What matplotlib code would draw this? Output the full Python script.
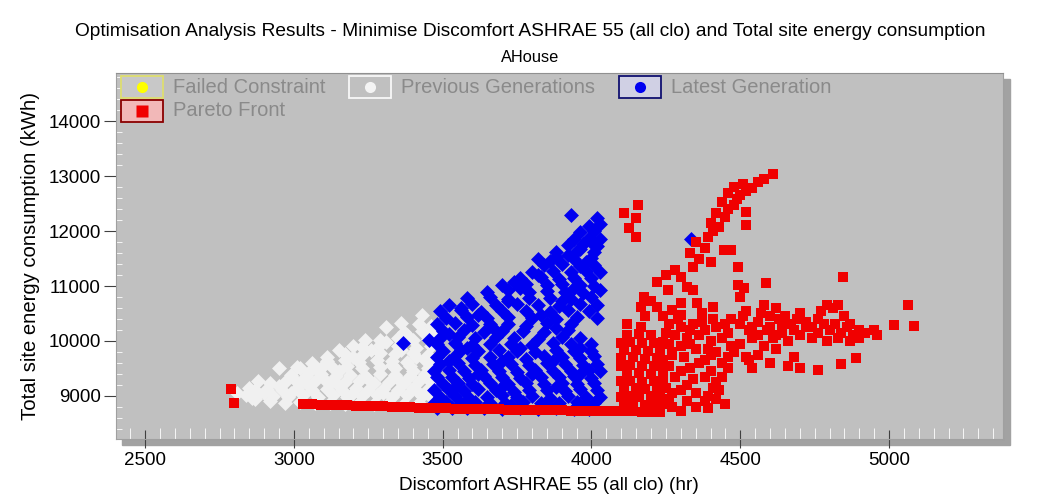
import matplotlib
matplotlib.use("Agg")
import matplotlib.pyplot as plt
from matplotlib.patches import Rectangle
from matplotlib.lines import Line2D
from matplotlib.ticker import MultipleLocator

plt.rcParams['font.family'] = ['Liberation Sans', 'DejaVu Sans']

# ---- data: (discomfort hr, energy kWh) ----
previous_pts = [
    (2810, 9050), (2850, 9150), (2880, 9280), (2950, 9500), (3010, 9520),
    (3060, 9600), (3110, 9700), (3150, 9830), (3200, 9900), (3240, 10010),
    (3310, 10250), (3360, 10320), (3430, 10470),
    (2870, 8950), (2920, 8900), (2970, 8880), (3020, 8890), (3070, 8870),
    (3120, 8880), (3170, 8860), (3220, 8870), (3270, 8860), (3320, 8870),
    (3370, 8860), (3420, 8870),
    (2840, 9010), (2880, 9040), (2930, 9000), (2980, 8990), (3030, 9010),
    (3080, 8990), (3130, 9020), (3180, 8990), (3230, 9000), (3280, 9020),
    (3330, 8990), (3380, 9010), (3430, 9000), (3460, 8980),
    (2870, 9100), (2910, 9130), (2960, 9110), (3010, 9140), (3060, 9100),
    (3110, 9120), (3160, 9110), (3210, 9140), (3250, 9100), (3300, 9130),
    (3350, 9110), (3400, 9140), (3450, 9120),
    (2920, 9230), (2970, 9260), (3020, 9240), (3070, 9270), (3120, 9230),
    (3170, 9250), (3220, 9280), (3270, 9240), (3320, 9260), (3370, 9230),
    (3420, 9270), (3460, 9250),
    (2990, 9380), (3040, 9360), (3090, 9400), (3140, 9370), (3190, 9390),
    (3240, 9360), (3290, 9400), (3340, 9380), (3390, 9360), (3440, 9400),
    (3020, 9500), (3070, 9520), (3130, 9500), (3180, 9540), (3230, 9510),
    (3290, 9530), (3340, 9500), (3390, 9540), (3450, 9510),
    (3110, 9630), (3170, 9650), (3220, 9620), (3280, 9660), (3330, 9640),
    (3380, 9620), (3440, 9660),
    (3170, 9770), (3230, 9750), (3290, 9790), (3340, 9760), (3400, 9780),
    (3450, 9750),
    (3230, 9890), (3290, 9920), (3350, 9900), (3410, 9880), (3460, 9910),
    (3290, 10020), (3350, 10050), (3400, 10010), (3450, 10040),
    (3370, 10160), (3430, 10190), (3420, 10310), (3460, 10280),
    (2900, 9060), (2950, 9180), (3000, 9300), (3050, 9440), (3100, 9570),
    (3150, 9450), (3200, 9700), (3260, 9840), (3310, 9980), (3380, 10100),
    (3330, 9560), (3410, 9700), (3250, 9300), (3150, 9180), (3050, 9180),
    (2990, 9060), (3100, 9300), (3350, 9300), (3400, 9450), (3200, 9050),
    (3300, 9060), (3420, 9060), (3460, 9380), (3460, 9600), (3360, 9840),
    (3460, 10150), (2860, 8960),
]

latest_pts = [
    (3365, 9960), (3455, 10020), (4333, 11854),
    (3480, 8780), (3530, 8780), (3580, 8790), (3640, 8780), (3700, 8770),
    (3760, 8780), (3820, 8770), (3880, 8780), (3940, 8770), (3990, 8770),
    (3470, 8880), (3510, 8890), (3560, 8870), (3610, 8890), (3660, 8880),
    (3710, 8870), (3770, 8890), (3830, 8880), (3890, 8870), (3950, 8890),
    (4010, 8880),
    (3490, 8980), (3540, 9000), (3590, 8970), (3650, 8990), (3700, 9010),
    (3750, 8980), (3800, 9000), (3860, 8970), (3920, 9000), (3980, 8990),
    (4030, 8980),
    (3470, 9100), (3520, 9110), (3570, 9090), (3620, 9120), (3680, 9100),
    (3740, 9080), (3790, 9110), (3850, 9100), (3910, 9090), (3960, 9120),
    (4020, 9100),
    (3500, 9220), (3550, 9240), (3600, 9210), (3660, 9230), (3720, 9220),
    (3780, 9240), (3840, 9210), (3900, 9230), (3950, 9220), (4010, 9240),
    (3480, 9340), (3530, 9350), (3590, 9330), (3640, 9360), (3700, 9340),
    (3760, 9320), (3830, 9350), (3890, 9340), (3940, 9360), (4000, 9330),
    (3470, 9460), (3520, 9470), (3570, 9450), (3630, 9480), (3690, 9460),
    (3750, 9440), (3810, 9470), (3870, 9460), (3930, 9450), (3990, 9480),
    (4030, 9460),
    (3490, 9580), (3550, 9600), (3610, 9570), (3670, 9590), (3730, 9580),
    (3790, 9560), (3850, 9600), (3910, 9580), (3970, 9570), (4020, 9590),
    (3480, 9700), (3540, 9720), (3600, 9690), (3660, 9710), (3720, 9700),
    (3780, 9680), (3840, 9720), (3900, 9700), (3960, 9690), (4010, 9720),
    (3500, 9820), (3560, 9840), (3620, 9810), (3690, 9830), (3750, 9820),
    (3810, 9800), (3880, 9840), (3940, 9820), (4000, 9810),
    (3480, 9940), (3540, 9960), (3600, 9930), (3660, 9950), (3730, 9940),
    (3800, 9920), (3870, 9960), (3930, 9940), (4000, 9950),
    (3490, 10060), (3550, 10080), (3610, 10050), (3680, 10070), (3740, 10060),
    (3820, 10040), (3900, 10080), (3960, 10060),
    (3500, 10180), (3570, 10200), (3640, 10170), (3700, 10190), (3770, 10180),
    (3840, 10160), (3920, 10200),
    (3480, 10300), (3540, 10320), (3600, 10290), (3660, 10310), (3720, 10300),
    (3780, 10280), (3850, 10320), (3930, 10300),
    (3510, 10420), (3580, 10440), (3650, 10410), (3720, 10430), (3800, 10420),
    (3880, 10400), (3950, 10440), (4020, 10420),
    (3490, 10540), (3560, 10560), (3630, 10530), (3700, 10550), (3780, 10540),
    (3860, 10520), (3920, 10560), (3990, 10540),
    (3520, 10660), (3600, 10680), (3680, 10650), (3750, 10670), (3820, 10660),
    (3890, 10640), (3960, 10680), (4020, 10660),
    (3580, 10780), (3660, 10800), (3720, 10770), (3790, 10790), (3860, 10780),
    (3930, 10760), (4000, 10800),
    (3650, 10900), (3720, 10920), (3790, 10890), (3850, 10910), (3910, 10900),
    (3970, 10880), (4030, 10920),
    (3700, 11020), (3780, 11040), (3850, 11010), (3900, 11030), (3960, 11020),
    (4010, 11000),
    (3760, 11140), (3830, 11160), (3890, 11130), (3940, 11150), (4000, 11140),
    (3800, 11260), (3870, 11280), (3930, 11250), (3980, 11270), (4030, 11260),
    (3840, 11380), (3900, 11400), (3960, 11370), (4010, 11390),
    (3820, 11500), (3880, 11520), (3940, 11490), (4000, 11510),
    (3880, 11620), (3950, 11640), (4010, 11610),
    (3920, 11740), (3970, 11760), (4020, 11730),
    (3940, 11860), (3990, 11880), (4030, 11850),
    (3960, 11980), (4010, 12000), (3990, 12100), (4030, 12120),
    (4020, 12230), (3930, 12300),
    (3500, 8830), (3600, 8830), (3730, 8830), (3850, 8830), (3980, 8830),
    (3540, 9160), (3700, 9160), (3880, 9160), (3620, 9400), (3800, 9400),
    (3960, 9400), (3520, 9640), (3700, 9640), (3870, 9640), (3580, 9880),
    (3760, 9880), (3960, 9880), (3520, 10120), (3670, 10240), (3880, 10240),
    (3620, 10480), (3830, 10480), (3560, 10600), (3720, 10720), (3900, 10720),
    (3760, 10960), (3940, 10960), (3820, 11200), (3860, 11450), (3920, 11560),
    (3960, 11680), (4000, 11800), (3980, 11440), (3740, 11080),
]

pareto_pts = [
    (2790, 9120), (2800, 8870),
    # front along the bottom
    (3030, 8860), (3060, 8850), (3090, 8840), (3120, 8840), (3150, 8830),
    (3180, 8830), (3210, 8820), (3240, 8820), (3270, 8810), (3300, 8810),
    (3330, 8800), (3360, 8800), (3390, 8800), (3420, 8790), (3450, 8790),
    (3480, 8780), (3510, 8780), (3540, 8770), (3570, 8770), (3600, 8770),
    (3630, 8760), (3660, 8760), (3690, 8760), (3720, 8750), (3750, 8750),
    (3780, 8750), (3810, 8740), (3840, 8740), (3870, 8740), (3900, 8740),
    (3930, 8730), (3960, 8730), (3990, 8730), (4020, 8720), (4050, 8720),
    (4080, 8720),
    # dense block
    (4110, 8720), (4140, 8720), (4170, 8710), (4200, 8710), (4230, 8710),
    (4110, 8850), (4140, 8860), (4180, 8840), (4210, 8850), (4240, 8860),
    (4100, 8990), (4130, 9000), (4160, 8980), (4200, 9000), (4230, 8990),
    (4110, 9130), (4150, 9140), (4180, 9120), (4220, 9130),
    (4100, 9270), (4130, 9280), (4170, 9260), (4210, 9270), (4240, 9280),
    (4120, 9410), (4160, 9420), (4200, 9400),
    (4100, 9550), (4130, 9560), (4170, 9540), (4210, 9550), (4240, 9560),
    (4100, 9690), (4140, 9700), (4180, 9680), (4220, 9690),
    (4110, 9830), (4150, 9840), (4190, 9820), (4230, 9830),
    (4100, 9970), (4130, 9980), (4170, 9960), (4210, 9970), (4240, 9980),
    (4120, 10110), (4160, 10120), (4200, 10100),
    (4121, 10300), (4168, 10254),
    # middle
    (4260, 10300), (4300, 10250), (4340, 10300), (4380, 10200), (4420, 10250),
    (4460, 10150), (4280, 10100), (4320, 10050), (4360, 10100), (4400, 10000),
    (4440, 10050), (4260, 9950), (4300, 9900), (4350, 9850), (4420, 9800),
    (4470, 9900), (4270, 9750), (4310, 9700), (4380, 9650), (4440, 9600),
    (4260, 9550), (4330, 9500), (4400, 9450), (4460, 9500), (4280, 9350),
    (4340, 9300), (4420, 9250), (4250, 9150), (4300, 9100), (4350, 9050),
    (4390, 9000), (4430, 9100), (4260, 8950), (4320, 8900), (4380, 8900),
    (4420, 8950), (4270, 8800), (4300, 8720),
    (4250, 10150), (4290, 10400), (4330, 10200), (4370, 10350), (4410, 10400),
    (4450, 10300), (4270, 9800), (4330, 9950), (4390, 9850), (4360, 9600),
    (4300, 9450), (4380, 9350), (4440, 9350), (4320, 9200), (4270, 9050),
    (4410, 9150), (4350, 8800), (4390, 8780), (4450, 8850), (4240, 9650),
    (4240, 9400), (4460, 9700), (4400, 9750),
    (4220, 11070), (4175, 10800), (4200, 10720), (4256, 10930), (4320, 10980),
    (4340, 10930), (4300, 10690), (4355, 10690), (4165, 10620), (4220, 10620),
    (4410, 10620), (4270, 10560), (4180, 10450), (4240, 10450), (4300, 10480),
    (4370, 10500),
    # horizontal band
    (4470, 10400), (4500, 10300), (4530, 10200), (4560, 10350), (4600, 10250),
    (4640, 10300), (4680, 10200), (4720, 10250), (4760, 10150), (4800, 10200),
    (4840, 10150), (4880, 10100), (4920, 10150), (4950, 10200), (4520, 10550),
    (4570, 10500), (4620, 10600), (4650, 10450), (4700, 10500), (4720, 10350),
    (4760, 10400), (4790, 10650), (4810, 10600), (4830, 10650), (4850, 10450),
    (4560, 10100), (4610, 10050), (4660, 10000), (4700, 10100), (4740, 10050),
    (4790, 10000), (4830, 10050), (4870, 10000), (4640, 10150), (4690, 10400),
    (4580, 10650), (4500, 10800),
    (4510, 10450), (4590, 10200), (4630, 10400), (4670, 10300), (4740, 10250),
    (4780, 10300), (4820, 10300), (4860, 10250), (4900, 10200), (4540, 10050),
    (4620, 10100), (4900, 10050), (4960, 10100), (4770, 10550), (4600, 10450),
    (4540, 10250), (4870, 10300),
    (4480, 9800), (4520, 9700), (4560, 9750), (4600, 9600), (4540, 9500),
    (4620, 9850), (4680, 9700), (4700, 9500), (4760, 9480), (4840, 9580),
    (4890, 9690), (4580, 9900), (4660, 9550), (4500, 9950), (4530, 9650),
    # rising arm
    (4250, 11200), (4280, 11300), (4300, 11160), (4340, 11350), (4360, 11500),
    (4330, 11600), (4380, 11700), (4400, 11440), (4350, 11800), (4390, 11890),
    (4410, 12000), (4430, 12080), (4400, 12150), (4450, 12250), (4420, 12320),
    (4460, 12400), (4480, 12480), (4440, 12520), (4490, 12580), (4500, 12660),
    (4460, 12700), (4520, 12720), (4480, 12800), (4540, 12780), (4510, 12860),
    (4560, 12900), (4580, 12950), (4610, 13040), (4519, 12345), (4519, 12115),
    (4445, 11654), (4470, 11650), (4492, 11345), (4492, 11018), (4512, 10963),
    (4587, 11054),
    # isolated
    (4108, 12327), (4158, 12473), (4148, 12236), (4125, 12054), (4148, 11890),
    (5065, 10655), (5018, 10290), (5085, 10273), (4846, 11163),
]

x_ticks = [2500, 3000, 3500, 4000, 4500, 5000]
y_ticks = [9000, 10000, 11000, 12000, 13000, 14000]

W, H = 1038, 499
fig = plt.figure(figsize=(W / 100, H / 100), dpi=100)
fig.patch.set_facecolor('white')


def fx(px):
    return px / W


def fy(py):
    return 1 - py / H


# plot area (pixels: 116..1003 x 73..439)
ax = fig.add_axes([fx(116), fy(439), fx(1003) - fx(116), fy(73) - fy(439)])
ax.set_facecolor('#c0c0c0')
# drop shadow
fig.add_artist(Rectangle((fx(122), fy(445)), fx(1010) - fx(122), fy(79) - fy(445),
                         transform=fig.transFigure, color='#a2a2a2', zorder=-1))

for pts, col, mk, sz in [(previous_pts, '#f0f0f0', 'D', 58),
                          (latest_pts, '#0000f0', 'D', 58),
                          (pareto_pts, '#f00000', 's', 50)]:
    ax.scatter([p[0] for p in pts], [p[1] for p in pts], c=col, marker=mk,
               s=sz, linewidths=0)

ax.set_xlim(2402, 5383)
ax.set_ylim(8218, 14873)
ax.set_xticks(x_ticks)
ax.set_yticks(y_ticks)
ax.xaxis.set_minor_locator(MultipleLocator(50))
ax.yaxis.set_minor_locator(MultipleLocator(200))
ax.tick_params(axis='x', which='major', direction='inout', length=13,
               color='#404040', labelsize=13.5, pad=3)
ax.tick_params(axis='x', which='minor', direction='in', length=8, color='white')
ax.tick_params(axis='y', which='major', direction='out', length=9,
               color='#404040', labelsize=13.5, pad=2)
ax.tick_params(axis='y', which='minor', direction='in', length=4, color='white')
for s in ax.spines.values():
    s.set_color('#a0a0a0')
ax.spines['top'].set_color('#909090')

ax.set_xlabel('Discomfort ASHRAE 55 (all clo) (hr)', fontsize=13.7, labelpad=0)
ax.xaxis.set_label_coords(0.488, -0.105)
ax.set_ylabel('Total site energy consumption (kWh)', fontsize=14.6, labelpad=6)

fig.text(fx(530), fy(31), 'Optimisation Analysis Results - Minimise Discomfort '
         'ASHRAE 55 (all clo) and Total site energy consumption',
         ha='center', va='center', fontsize=13.8)
fig.text(fx(530), fy(58), 'AHouse', ha='center', va='center', fontsize=11.8)

# legend, drawn by hand
legend = [
    (121, 76, 'Failed Constraint', '#c8c8c8', '#dede70', 'o', '#ffff00'),
    (349, 76, 'Previous Generations', '#c0c0c0', '#f8f8f8', 'o', '#f4f4f4'),
    (619, 76, 'Latest Generation', '#d0d0e4', '#101070', 'o', '#0000f0'),
    (121, 100, 'Pareto Front', '#f2b8b8', '#8a0000', 's', '#f00000'),
]
for x0, y0, label, face, edge, mk, mcol in legend:
    fig.add_artist(Rectangle((fx(x0), fy(y0 + 22)), fx(42), 22 / H,
                             transform=fig.transFigure, facecolor=face,
                             edgecolor=edge, lw=1.3, zorder=10))
    fig.add_artist(Line2D([fx(x0 + 21)], [fy(y0 + 11)], marker=mk, ms=8 if mk == 'o' else 9,
                          color=mcol, mec='none', transform=fig.transFigure, zorder=11))
    fig.text(fx(x0 + 52), fy(y0 + 11), label, ha='left', va='center',
             fontsize=14.5, color='#8a8a8a', zorder=11)

fig.savefig('out.png', dpi=100)
